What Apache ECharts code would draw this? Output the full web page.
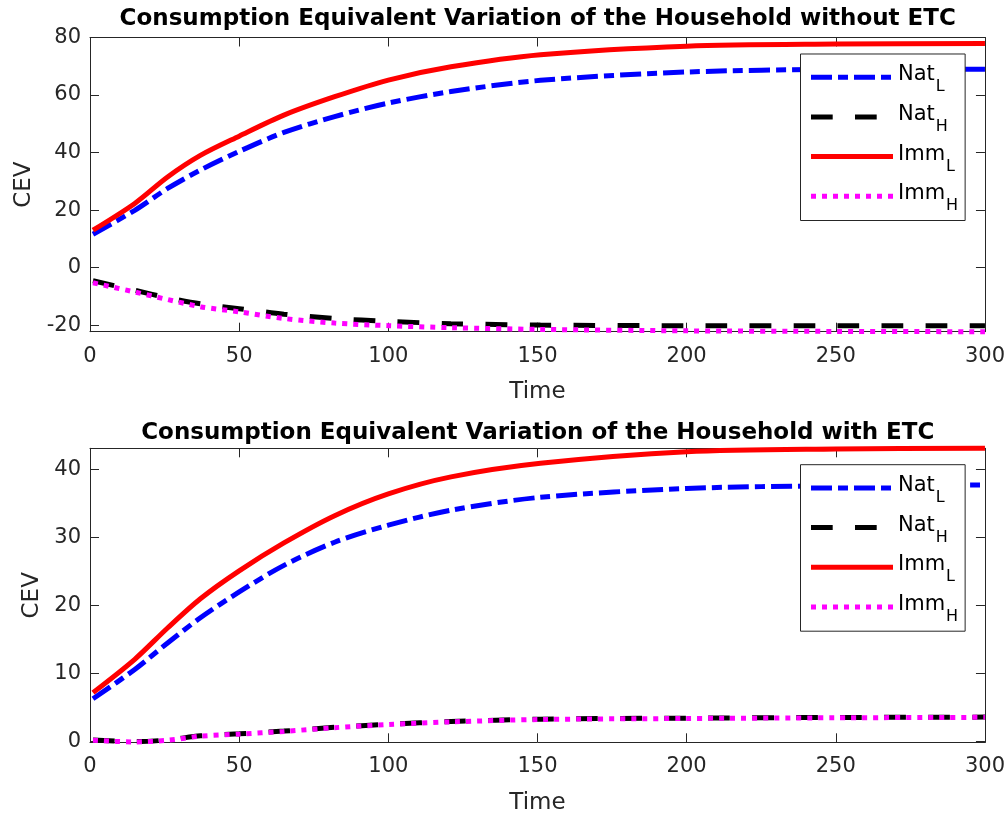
<!DOCTYPE html>
<html>
<head>
<meta charset="utf-8">
<script src="https://cdn.jsdelivr.net/npm/echarts@6/dist/echarts.min.js"></script>
<style>
  html, body { margin: 0; padding: 0; background: #ffffff; }
  #chart { width: 1008px; height: 816px; }
</style>
</head>
<body>
<div id="chart"></div>
<script>
// Time periods at which the CEV paths are sampled
const timeSteps = [1, 15, 26, 37, 50, 65, 82, 100, 121, 151, 200, 250, 300];

// Household without ETC
const natL_noETC = [11.6, 19.9, 27.5, 33.9, 40.4, 47.0, 52.5, 57.2, 61.2, 65.1, 68.0, 68.9, 69.0];
const natH_noETC = [-4.6, -7.9, -10.5, -12.6, -14.3, -16.2, -17.7, -18.7, -19.5, -20.0, -20.2, -20.2, -20.2];
const immL_noETC = [13.0, 22.3, 31.5, 39.0, 45.7, 53.0, 59.4, 65.2, 69.8, 74.0, 77.0, 77.7, 77.9];
const immH_noETC = [-5.3, -8.5, -11.1, -13.6, -15.4, -17.7, -19.3, -20.2, -20.9, -21.5, -22.0, -22.2, -22.3];

// Household with ETC
const natL_ETC = [6.3, 10.6, 14.5, 18.2, 22.0, 25.9, 29.3, 31.8, 34.0, 35.9, 37.2, 37.6, 37.7];
const natH_ETC = [0.25, 0.0, 0.25, 0.85, 1.15, 1.55, 2.1, 2.55, 2.95, 3.3, 3.45, 3.55, 3.6];
const immL_ETC = [7.2, 12.1, 16.7, 21.0, 25.1, 29.2, 33.2, 36.4, 38.9, 40.9, 42.6, 43.0, 43.1];
const immH_ETC = [0.2, -0.05, 0.2, 0.8, 1.1, 1.5, 2.05, 2.5, 2.9, 3.25, 3.4, 3.5, 3.57];

// Tick values
const timeTicks = [0, 50, 100, 150, 200, 250, 300];
const cevTicksNoETC = [-20, 0, 20, 40, 60, 80];
const cevTicksETC = [0, 10, 20, 30, 40];

const seriesNames = ['Nat_L', 'Nat_H', 'Imm_L', 'Imm_H'];
const titles = [
  'Consumption Equivalent Variation of the Household without ETC',
  'Consumption Equivalent Variation of the Household with ETC'
];

const FONT = 'DejaVu Sans';
const AXIS_COLOR = '#262626';

const lineStyles = {
  Nat_L: { color: '#0000ff', width: 5, type: [21, 6, 10, 6], cap: 'butt' },
  Nat_H: { color: '#000000', width: 5, type: [21.7, 22.3], cap: 'butt' },
  Imm_L: { color: '#ff0000', width: 5, type: 'solid', cap: 'butt' },
  Imm_H: { color: '#ff00ff', width: 5, type: [5, 6], cap: 'butt' }
};

// Grid boxes in pixels
const grids = [
  { left: 90, right: 22.5, top: 37.5, height: 294.2 },
  { left: 90, right: 22.5, top: 448.3, height: 294.0 }
];
const plotCenterX = 90 + (1008 - 90 - 22.5) / 2;

function makeSeries(name, values, panel) {
  return {
    type: 'line',
    name: name,
    xAxisIndex: panel * 2,
    yAxisIndex: panel * 2,
    data: timeSteps.map((t, i) => [t, values[i]]),
    symbol: 'none',
    showSymbol: false,
    smooth: 0.3,
    clip: false,
    color: lineStyles[name].color,
    itemStyle: { color: lineStyles[name].color },
    lineStyle: Object.assign({}, lineStyles[name]),
    emphasis: { disabled: true },
    z: 2 + seriesNames.indexOf(name)
  };
}

function xAxes(panel) {
  const common = {
    type: 'value', gridIndex: panel, min: 0, max: 300, interval: 50,
    splitLine: { show: false },
    axisLine: { show: true, onZero: false, lineStyle: { color: AXIS_COLOR, width: 1 } },
    axisTick: { show: true, inside: true, length: 9, lineStyle: { color: AXIS_COLOR } }
  };
  return [
    Object.assign({}, common, {
      position: 'bottom',
      name: 'Time', nameLocation: 'middle', nameGap: 49,
      nameTextStyle: { fontFamily: FONT, fontSize: 23, color: AXIS_COLOR },
      axisLabel: { show: true, margin: 14, fontFamily: FONT, fontSize: 21, color: AXIS_COLOR,
                   customValues: timeTicks },
      axisTick: Object.assign({}, common.axisTick, { customValues: timeTicks })
    }),
    Object.assign({}, common, {
      position: 'top',
      axisLabel: { show: false },
      axisTick: Object.assign({}, common.axisTick, { customValues: timeTicks })
    })
  ];
}

function yAxes(panel, min, max, ticks, nameGap) {
  const common = {
    type: 'value', gridIndex: panel, min: min, max: max,
    splitLine: { show: false },
    axisLine: { show: true, onZero: false, lineStyle: { color: AXIS_COLOR, width: 1 } },
    axisTick: { show: true, inside: true, length: 9, lineStyle: { color: AXIS_COLOR }, customValues: ticks }
  };
  return [
    Object.assign({}, common, {
      position: 'left',
      name: 'CEV', nameLocation: 'middle', nameGap: nameGap,
      nameTextStyle: { fontFamily: FONT, fontSize: 23, color: AXIS_COLOR },
      axisLabel: { show: true, margin: 9, fontFamily: FONT, fontSize: 21, color: AXIS_COLOR,
                   customValues: ticks }
    }),
    Object.assign({}, common, {
      position: 'right',
      axisLabel: { show: false }
    })
  ];
}

function makeLegend(top) {
  return {
    data: seriesNames,
    orient: 'vertical',
    left: 800.5,
    top: top,
    itemWidth: 82,
    itemHeight: 10,
    itemGap: 8.7,
    padding: [10.2, 7, 6.2, 8],
    backgroundColor: '#ffffff',
    borderColor: AXIS_COLOR,
    borderWidth: 1,
    borderRadius: 0,
    selectedMode: false,
    itemStyle: { opacity: 0, borderWidth: 0 },
    lineStyle: { width: 'inherit', type: 'inherit', cap: 'butt' },
    formatter: function (name) {
      const parts = name.split('_');
      return '{m|' + parts[0] + '}{s|' + parts[1] + '}';
    },
    textStyle: {
      width: 60,
      fontFamily: FONT,
      color: '#000000',
      rich: {
        m: { fontFamily: FONT, fontSize: 21, color: '#000000', verticalAlign: 'top', padding: [5, 0, 0, 0] },
        s: { fontFamily: FONT, fontSize: 16, color: '#000000', verticalAlign: 'top', padding: [20, 0, 0, 1] }
      }
    }
  };
}

const chart = echarts.init(document.getElementById('chart'), null, { renderer: 'canvas' });

chart.setOption({
  animation: false,
  backgroundColor: '#ffffff',
  title: [
    { text: titles[0], left: plotCenterX, textAlign: 'center', top: 8, padding: 0,
      textStyle: { fontFamily: FONT, fontSize: 23, fontWeight: 'bold', color: '#000000' } },
    { text: titles[1], left: plotCenterX, textAlign: 'center', top: 422, padding: 0,
      textStyle: { fontFamily: FONT, fontSize: 23, fontWeight: 'bold', color: '#000000' } }
  ],
  grid: grids,
  legend: [makeLegend(54), makeLegend(464.7)],
  xAxis: [].concat(xAxes(0), xAxes(1)),
  yAxis: [].concat(
    yAxes(0, -22.3, 80, cevTicksNoETC, 53),
    yAxes(1, -0.1, 43.1, cevTicksETC, 44)
  ),
  series: [
    makeSeries('Nat_L', natL_noETC, 0),
    makeSeries('Nat_H', natH_noETC, 0),
    makeSeries('Imm_L', immL_noETC, 0),
    makeSeries('Imm_H', immH_noETC, 0),
    makeSeries('Nat_L', natL_ETC, 1),
    makeSeries('Nat_H', natH_ETC, 1),
    makeSeries('Imm_L', immL_ETC, 1),
    makeSeries('Imm_H', immH_ETC, 1)
  ]
});
</script>
</body>
</html>
